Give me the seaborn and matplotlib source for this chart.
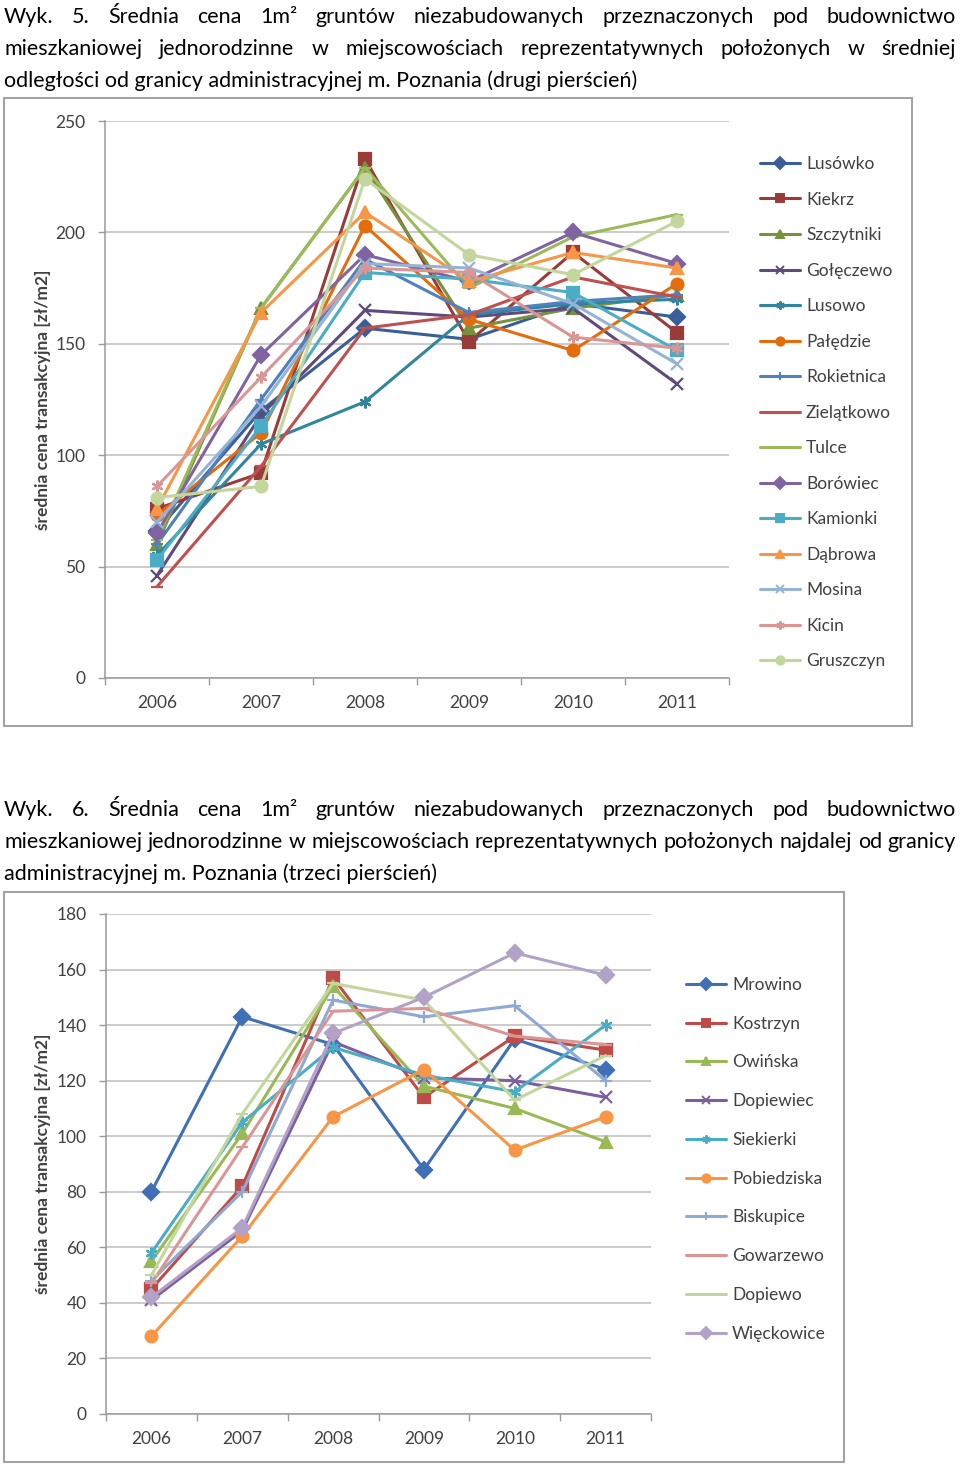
import numpy as np
import pandas as pd
import seaborn as sns
import matplotlib.pyplot as plt
from matplotlib.lines import Line2D
from matplotlib.patches import Rectangle

# ---------------- data ----------------
years = [2006, 2007, 2008, 2009, 2010, 2011]

# Wyk. 5 - drugi pierścień
places_5 = ["Lusówko", "Kiekrz", "Szczytniki", "Gołęczewo", "Lusowo", "Pałędzie",
            "Rokietnica", "Zielątkowo", "Tulce", "Borówiec", "Kamionki", "Dąbrowa",
            "Mosina", "Kicin", "Gruszczyn"]
lusowko = [66, 120, 157, 152, 168, 162]
kiekrz = [76, 92, 233, 151, 191, 155]
szczytniki = [60, 166, 229, 157, 166, 172]
goleczewo = [46, 118, 165, 162, 166, 132]
lusowo = [55, 105, 124, 163, 168, 170]
paledzie = [73, 110, 203, 161, 147, 177]
rokietnica = [60, 125, 188, 164, 169, 172]
zielatkowo = [41, 95, 157, 163, 180, 171]
tulce = [62, 166, 229, 175, 198, 208]
borowiec = [65, 145, 190, 178, 200, 186]
kamionki = [53, 113, 182, 179, 173, 147]
dabrowa = [76, 164, 209, 178, 191, 184]
mosina = [70, 122, 186, 184, 168, 141]
kicin = [86, 135, 184, 182, 153, 148]
gruszczyn = [81, 86, 224, 190, 181, 205]
values_5 = [lusowko, kiekrz, szczytniki, goleczewo, lusowo, paledzie, rokietnica,
            zielatkowo, tulce, borowiec, kamionki, dabrowa, mosina, kicin, gruszczyn]

# Wyk. 6 - trzeci pierścień
places_6 = ["Mrowino", "Kostrzyn", "Owińska", "Dopiewiec", "Siekierki", "Pobiedziska",
            "Biskupice", "Gowarzewo", "Dopiewo", "Więckowice"]
mrowino = [80, 143, 133, 88, 135, 124]
kostrzyn = [45, 82, 157, 114, 136, 131]
owinska = [55, 101, 154, 118, 110, 98]
dopiewiec = [41, 66, 134, 121, 120, 114]
siekierki = [58, 105, 132, 122, 116, 140]
pobiedziska = [28, 64, 107, 124, 95, 107]
biskupice = [48, 80, 149, 143, 147, 120]
gowarzewo = [47, 96, 145, 146, 136, 133]
dopiewo = [50, 108, 155, 149, 113, 129]
wieckowice = [42, 67, 137, 150, 166, 158]
values_6 = [mrowino, kostrzyn, owinska, dopiewiec, siekierki, pobiedziska,
            biskupice, gowarzewo, dopiewo, wieckowice]

caption_5 = [
    ["Wyk.", "5.", "Średnia", "cena", "1m²", "gruntów", "niezabudowanych",
     "przeznaczonych", "pod", "budownictwo"],
    ["mieszkaniowej", "jednorodzinne", "w", "miejscowościach", "reprezentatywnych",
     "położonych", "w", "średniej"],
    "odległości od granicy administracyjnej m. Poznania (drugi pierścień)",
]
caption_6 = [
    ["Wyk.", "6.", "Średnia", "cena", "1m²", "gruntów", "niezabudowanych",
     "przeznaczonych", "pod", "budownictwo"],
    ["mieszkaniowej", "jednorodzinne", "w", "miejscowościach", "reprezentatywnych",
     "położonych", "najdalej", "od", "granicy"],
    "administracyjnej m. Poznania (trzeci pierścień)",
]
ylabel = "średnia cena transakcyjna [zł/m2]"

# ---------------- styles ----------------
star = (6, 2, 0)
colors_5 = ["#3A5F98", "#9B3B38", "#76923C", "#5F4A7B", "#31859C", "#E46C0A",
            "#4F81BD", "#C0504D", "#9BBB59", "#8064A2", "#4BACC6", "#F79646",
            "#95B3D7", "#D99694", "#C3D69B"]
markers_5 = ["D", "s", "^", "x", star, "o", "+", "_", "_", "D", "s", "^", "x", star, "o"]
colors_6 = ["#3F6FB5", "#BE4B48", "#98B954", "#7D5FA0", "#4BACC6", "#F79646",
            "#8EA9D6", "#D99694", "#C3D69B", "#B3A2C7"]
markers_6 = ["D", "s", "^", "x", star, "o", "+", "_", "_", "D"]

GRAY = "#9A9A9A"
TXT = "#404040"

sns.set_theme(style="white")
plt.rcParams["font.family"] = ["Lato", "DejaVu Sans"]

W, H = 960, 1464
fig = plt.figure(figsize=(W / 100, H / 100), dpi=100)
renderer = fig.canvas.get_renderer()


def fy(y):
    return 1 - y / H


def to_long(places, values):
    rows = []
    for name, vals in zip(places, values):
        for yr, v in zip(years, vals):
            rows.append({"rok": yr, "cena": v, "miejscowosc": name})
    return pd.DataFrame(rows)


def caption(lines, y0, fs):
    for i, line in enumerate(lines):
        y = fy(y0 + 32 * i)
        if isinstance(line, str):
            fig.text(4 / W, y, line, fontsize=fs, va="center", ha="left", color="black")
            continue
        # justified line: spread the words over the full width
        texts = [fig.text(0, y, w, fontsize=fs, va="center", ha="left", color="black")
                 for w in line]
        widths = [t.get_window_extent(renderer).width for t in texts]
        gap = (952 - sum(widths)) / (len(line) - 1)
        x = 4
        for t, w in zip(texts, widths):
            t.set_x(x / W)
            x += w + gap


def chart(box, frame, places, values, colors, markers, ymax, ystep, leg_xy, leg_sp):
    left, top, right, bottom = box
    ax = fig.add_axes([left / W, 1 - bottom / H, (right - left) / W, (bottom - top) / H])
    df = to_long(places, values)
    pal = dict(zip(places, colors))
    sns.lineplot(data=df, x="rok", y="cena", hue="miejscowosc", hue_order=places,
                 palette=pal, errorbar=None, linewidth=2.2, legend=False, ax=ax)
    # seaborn refuses to mix filled and line-art markers, so set them per line
    for line, c, m in zip(ax.get_lines(), colors, markers):
        line.set_marker(m)
        line.set_markersize(8.5)
        line.set_markeredgecolor(c)
        line.set_markerfacecolor(c)
        line.set_markeredgewidth(1.6)

    ax.set_xlim(2005.5, 2011.5)
    ax.set_ylim(0, ymax)
    ax.set_yticks(np.arange(0, ymax + 1, ystep))
    ax.set_xticks(years)
    ax.set_xticks(np.arange(2005.5, 2012, 1), minor=True)
    ax.tick_params(axis="x", which="major", length=0, pad=12, labelsize=12.5,
                   labelcolor=TXT, bottom=True)
    ax.tick_params(axis="x", which="minor", length=5, color=GRAY, width=1, bottom=True)
    ax.tick_params(axis="y", length=5, color=GRAY, width=1, pad=9, labelsize=12.5,
                   labelcolor=TXT, left=True)
    ax.grid(axis="y", color="#BDBDBD", lw=1.1)
    ax.set_axisbelow(True)
    sns.despine(ax=ax)
    for s in ("left", "bottom"):
        ax.spines[s].set_color(GRAY)
        ax.spines[s].set_linewidth(1.1)
    ax.set_xlabel("")
    ax.set_ylabel(ylabel, fontsize=12.5, fontweight="bold", color=TXT)
    ax.yaxis.set_label_coords((51 - left) / (right - left), 0.5)

    fx0, fy0, fx1, fy1 = frame
    fig.add_artist(Rectangle((fx0 / W, fy(fy1)), (fx1 - fx0) / W, (fy1 - fy0) / H,
                             transform=fig.transFigure, fill=False, ec="#A3A3A3", lw=1.5))

    handles = [Line2D([], [], color=c, marker=m, mfc=c, mec=c, mew=1.4, ms=6, lw=2.2)
               for c, m in zip(colors, markers)]
    leg = fig.legend(handles, places, loc="upper left",
                     bbox_to_anchor=(leg_xy[0] / W, fy(leg_xy[1])), frameon=False,
                     fontsize=12.5, handlelength=2.3, handletextpad=0.35,
                     labelspacing=leg_sp, borderpad=0, borderaxespad=0)
    for t in leg.get_texts():
        t.set_color(TXT)
    return ax


# caption font size fitted to the width of the last caption line
probe = fig.text(0, 0, caption_5[2], fontsize=14)
fs = 14 * 634 / probe.get_window_extent(renderer).width
probe.remove()

caption(caption_5, 17, fs)
caption(caption_6, 810, fs)

chart((105, 121, 729, 678), (4, 98, 912, 726), places_5, values_5, colors_5, markers_5,
      250, 50, (760, 156), 1.125)
chart((106, 914, 651, 1414), (4, 892, 844, 1462), places_6, values_6, colors_6, markers_6,
      180, 20, (686, 977), 1.31)

fig.savefig("out.png", dpi=100, facecolor="white")
